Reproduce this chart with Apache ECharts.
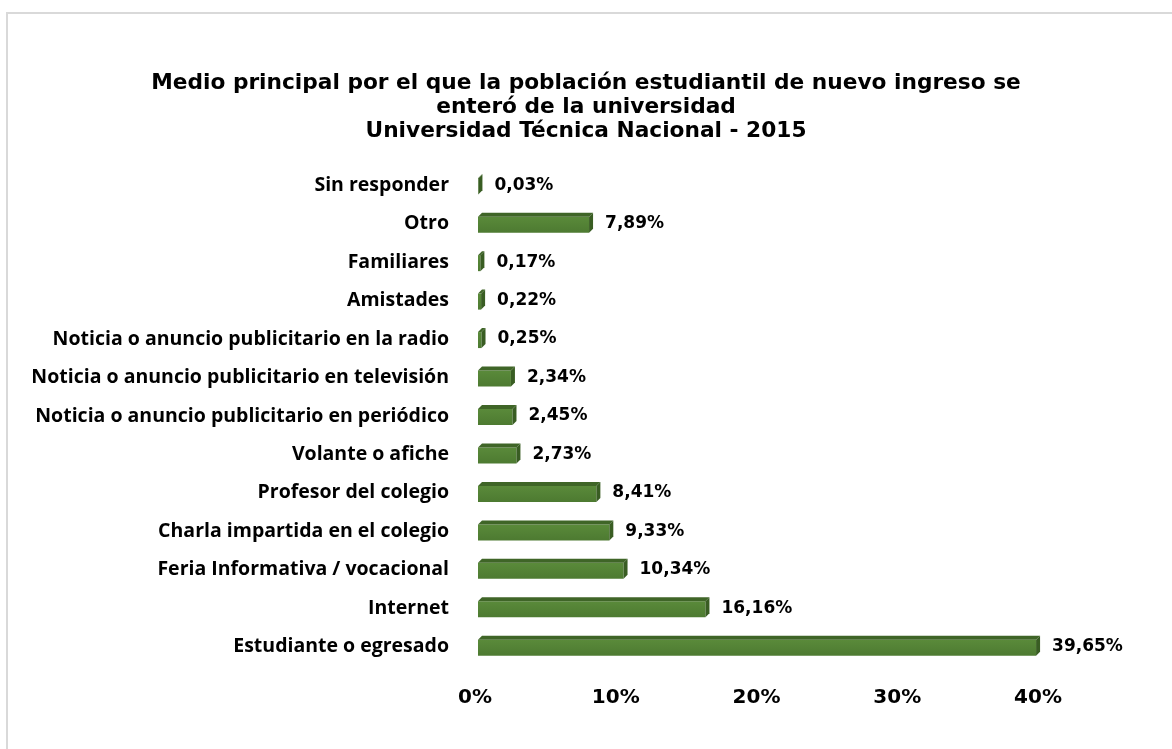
<!DOCTYPE html>
<html>
<head>
<meta charset="utf-8">
<script src="https://cdn.jsdelivr.net/npm/echarts@6/dist/echarts.min.js"></script>
<style>
html,body{margin:0;padding:0;background:#fff;}
#chart{width:1172px;height:749px;}
</style>
</head>
<body>
<div id="chart"></div>
<script>
const titleLines = [
  'Medio principal por el que la población estudiantil de nuevo ingreso se',
  'enteró de la universidad',
  'Universidad Técnica Nacional - 2015'
];
const categories = [
  'Sin responder',
  'Otro',
  'Familiares',
  'Amistades',
  'Noticia o anuncio publicitario en la radio',
  'Noticia o anuncio publicitario en televisión',
  'Noticia o anuncio publicitario en periódico',
  'Volante o afiche',
  'Profesor del colegio',
  'Charla impartida en el colegio',
  'Feria Informativa / vocacional',
  'Internet',
  'Estudiante o egresado'
];
const values = [0.03, 7.89, 0.17, 0.22, 0.25, 2.34, 2.45, 2.73, 8.41, 9.33, 10.34, 16.16, 39.65];
const tickMin = 0, tickMax = 40, tickStep = 10;

const chart = echarts.init(document.getElementById('chart'));
const fmt = v => v.toFixed(2).replace('.', ',') + '%';
const D = 4; // 3D depth
const H = 16; // front face height

chart.setOption({
  animation: false,
  backgroundColor: '#fff',
  graphic: [{
    type: 'rect', shape: {x: 7, y: 13, width: 1200, height: 800},
    style: {fill: 'none', stroke: '#d9d9d9', lineWidth: 2}, z: -10
  }],
  title: {
    text: titleLines.join('\n'),
    left: 'center', top: 66,
    textStyle: {fontFamily: 'DejaVu Sans', fontWeight: 'bold', fontSize: 21.7, lineHeight: 24, color: '#000'}
  },
  grid: {left: 478, right: 131, top: 166, bottom: 83},
  xAxis: {
    type: 'value', min: tickMin, max: tickMax, interval: tickStep,
    splitLine: {show: false}, axisLine: {show: false}, axisTick: {show: false},
    axisLabel: {formatter: '{value}%', margin: 22, padding: [0, 6, 0, 0], color: '#000', fontFamily: 'DejaVu Sans', fontWeight: 'bold', fontSize: 20}
  },
  yAxis: {
    type: 'category', data: categories, inverse: true,
    axisLine: {show: false}, axisTick: {show: false},
    axisLabel: {margin: 29, color: '#000', fontFamily: 'Open Sans', fontWeight: 'bold', fontSize: 19.5}
  },
  series: [{
    type: 'custom',
    data: values.map((v, i) => [v, i]),
    encode: {x: 0, y: 1},
    renderItem: function (params, api) {
      const v = api.value(0), i = api.value(1);
      const p1 = api.coord([v, i]);
      const p0 = api.coord([0, i]);
      const x0 = p0[0], x1 = p1[0];
      const yTop = p0[1] - H / 2 + 1, yBot = yTop + H;
      return {
        type: 'group',
        children: [
          {type: 'rect', shape: {x: x0, y: yTop, width: x1 - x0, height: H},
           style: {fill: new echarts.graphic.LinearGradient(0, 0, 0, 1, [{offset: 0, color: '#5a8a3a'}, {offset: 1, color: '#4d7a31'}])}},
          {type: 'polygon', shape: {points: [[x0, yTop], [x0 + D, yTop - D], [x1 + D, yTop - D], [x1, yTop]]},
           style: {fill: '#3f6527'}},
          {type: 'polygon', shape: {points: [[x1, yTop], [x1 + D, yTop - D], [x1 + D, yBot - D], [x1, yBot]]},
           style: {fill: '#395d23'}},
          {type: 'text', style: {text: fmt(v), x: x1 + D + 12, y: p0[1], textVerticalAlign: 'middle', verticalAlign: 'middle',
            fill: '#000', font: 'bold 17px "DejaVu Sans"'}}
        ]
      };
    }
  }]
});
</script>
</body>
</html>
